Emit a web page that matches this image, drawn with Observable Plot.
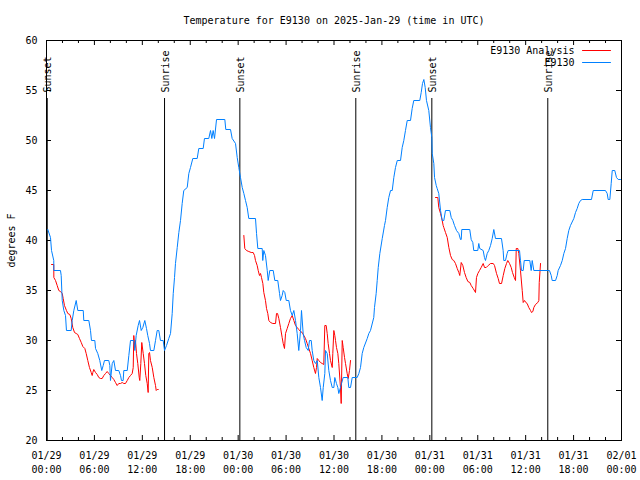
<!DOCTYPE html>
<html>
<head>
<meta charset="utf-8">
<script src="https://cdn.jsdelivr.net/npm/d3@7"></script>
<script src="https://cdn.jsdelivr.net/npm/@observablehq/plot@0.6"></script>
<style>
  html, body { margin: 0; padding: 0; background: #fff; }
  #chart svg { display: block; }
</style>
</head>
<body>
<div id="chart"></div>
<script>
// ---- Data (hours since 2025-01-29 00:00 UTC, temperatures in °F) ----
const titleText = "Temperature for E9130 on 2025-Jan-29 (time in UTC)";
const yLabelText = "degrees F";
const seriesNames = ["E9130 Analysis", "E9130"];
const seriesColors = ["#ff0000", "#0080ff"];

const e9130Hours = [0.16,0.50,0.63,0.91,0.92,1.75,1.84,1.97,2.17,2.38,2.50,3.09,3.22,3.42,3.72,3.92,4.60,4.67,5.30,5.51,5.63,6.05,6.14,6.42,6.67,6.92,7.10,7.26,7.80,7.93,8.01,8.23,8.43,8.64,9.05,9.27,9.39,9.60,9.68,10.11,10.31,10.52,10.93,11.06,11.23,11.48,11.65,11.86,12.06,12.31,12.52,12.68,12.90,13.02,13.44,13.65,13.86,14.06,14.27,14.61,14.78,15.03,15.31,15.53,15.74,15.87,16.03,16.15,16.37,16.57,16.78,16.99,17.19,17.62,17.82,18.03,18.32,18.87,19.07,19.62,19.78,20.32,20.54,20.70,20.87,21.04,21.29,22.33,22.45,23.04,23.25,23.67,23.88,24.08,24.29,24.51,24.71,24.92,25.13,25.33,26.17,26.30,26.46,27.01,27.08,27.21,27.42,27.64,27.76,27.96,28.39,28.59,28.96,29.18,29.30,29.51,29.64,29.84,30.02,30.34,30.55,30.77,30.97,31.18,31.39,31.59,31.81,31.93,32.14,32.31,32.52,32.77,32.93,33.15,33.27,33.47,33.68,33.90,34.10,34.31,34.52,34.65,34.85,34.94,35.15,35.35,35.56,35.78,35.98,36.10,36.31,36.48,36.60,36.81,36.94,37.15,37.73,37.85,38.07,38.28,38.90,39.11,39.32,39.53,39.73,40.16,40.36,40.57,40.98,41.07,41.28,41.41,41.54,41.74,42.04,42.32,42.45,42.66,42.86,43.08,43.29,43.49,43.70,43.92,44.33,44.54,44.74,44.95,45.17,45.58,45.79,45.99,46.74,46.92,47.08,47.25,47.42,47.58,47.87,48.08,48.25,48.30,48.50,48.59,48.80,48.92,49.12,49.34,49.55,49.75,49.96,50.50,50.68,50.88,51.09,51.34,51.63,51.84,51.93,52.00,53.00,53.18,53.38,53.50,54.00,54.13,54.25,54.68,54.84,54.97,55.18,55.38,55.60,55.81,56.01,56.22,56.97,57.18,57.26,57.47,57.68,57.81,59.23,59.35,59.48,59.69,59.82,60.52,60.69,60.82,61.02,62.98,63.20,63.32,63.74,63.95,64.07,64.36,64.58,64.78,64.99,65.20,65.40,65.61,66.03,66.24,66.45,66.65,66.87,67.08,68.24,68.46,69.99,70.21,70.33,70.54,70.71,70.84,71.16,71.37,71.59,71.87];
const e9130Temps = [41.1,40.3,39,38,37,37,36.5,34,33,32.5,31,31,32,33,34,33,33,32,32,31,30,30,29.2,28.7,28,27,27.5,28,28,27.5,26,27.7,28,27,27,26.5,26,26,27,27,28.5,30,30,29,30.5,31.5,32,31,31.3,32,31.2,30.5,29.7,29,29,30,31,31,30,30,29,29.5,30.2,30.7,32.7,34.7,36.3,37.7,39.3,40.8,42,43.7,45,45.3,46.7,47.3,48.2,48.2,49.2,49.2,50.2,50.2,51,50.2,51,50.2,52.1,52.1,51.1,51.1,50.2,49.7,48.3,47.3,46.3,45.3,44.7,44,43.3,42.2,42.2,40.7,39.2,39.2,38,39,38.5,37,36,37,37,36,36,34.7,34,34.5,35,34.8,34,34,33,32.5,33,32,30.7,29,31,33,30.7,30,29.3,29,30,30,29,28,27.7,28,26.3,25.3,24,25.3,26.7,29,28.7,27,26,25.3,25.3,26.3,25.7,25.3,24.7,25.3,25.7,26.3,26.3,25.3,25.3,26.3,26.3,26.7,27.3,28.7,29.3,30.2,30.7,31,32.3,33.3,34.7,36,37.3,38.7,40.2,41.5,42,43.3,44.3,45,45,46.3,47.3,48,48,49.3,50,51,52,52,53.2,54,54,54.8,55.7,56.1,55.3,54,53,51.3,50.3,48.7,47.7,46.3,45.5,45.2,44.7,43,42,42,43,43,42.3,42,41.5,41,40.7,40.1,40.1,41.1,41.1,40.1,39.8,39,39,39.7,39.2,39,38.3,38,38.7,39,39.5,40.2,41.1,40.2,40.2,39,38,38,38.7,39,39,38,37,37,38,38,37,38,37,37,36.5,36,36,36.5,37,37.5,38,38.7,39.2,40.2,41,41.5,42.2,42.8,43.2,43.7,44,44.1,44.1,45,45,44.7,44.1,44.1,45.7,47,47,46.3,46.1,46.1];

// Analysis series: three night-time segments
const analysis1Hours = [0.63,0.91,0.92,1.13,1.34,1.54,1.75,1.97,2.09,2.25,2.50,2.67,2.92,3.09,3.29,3.51,3.72,3.92,4.13,4.35,4.55,4.80,4.97,5.17,5.38,5.60,5.72,5.80,5.92,6.14,6.35,6.55,6.76,6.97,7.18,7.39,7.60,7.80,8.01,8.23,8.43,8.64,8.85,9.05,9.27,9.48,9.68,9.89,10.11,10.31,10.52,10.73,10.86,10.93,11.06,11.14,11.27,11.43,11.61,11.68,11.81,11.93,12.11,12.27,12.43,12.61,12.73,12.81,12.90,13.02,13.24,13.44,13.65,13.74,13.86,13.99];
const analysis1Temps = [37.6,37.6,36.3,36.0,35.5,35.0,34.9,34.7,34.2,33.5,33.0,32.7,32.6,32.2,31.3,30.8,30.7,30.6,30.2,29.8,29.4,29.2,28.7,28.0,27.3,26.8,26.5,26.8,27.1,26.8,26.6,26.3,26.2,26.2,26.5,26.7,26.9,26.7,26.5,26.3,26.1,25.8,25.5,25.7,25.7,25.8,25.7,25.7,26.0,26.3,26.5,26.7,27.3,30.5,29.3,30.0,28.7,27.7,26.3,26.0,27.7,29.8,28.7,27.7,26.5,25.7,24.8,28.7,28.8,28.0,27.3,26.3,25.5,25.0,25.1,25.1];
const analysis2Hours = [24.71,24.83,25.04,25.33,25.63,25.88,26.05,26.17,26.38,26.51,26.67,26.80,26.92,27.09,27.21,27.42,27.55,27.71,27.84,28.05,28.34,28.68,28.80,28.93,29.09,29.30,29.51,29.64,29.80,29.93,30.14,30.34,30.55,30.77,30.97,31.18,31.39,31.59,31.81,32.02,32.22,32.43,32.64,32.85,33.06,33.27,33.47,33.68,33.81,33.90,34.10,34.31,34.52,34.72,34.85,35.02,35.15,35.27,35.44,35.56,35.78,35.85,35.98,36.10,36.19,36.31,36.48,36.60,36.81,36.90,37.03,37.15,37.32,37.44,37.65,37.78,37.94,38.07];
const analysis2Temps = [40.5,39.2,39.0,38.9,38.8,38.8,38.5,38.0,37.5,37.0,36.5,36.7,36.3,35.7,34.8,34.0,33.2,32.7,32.0,31.8,31.7,31.7,32.7,32.7,32.2,31.3,30.3,29.7,29.2,30.7,31.2,31.7,32.2,32.5,32.0,31.5,31.3,31.1,30.9,30.8,30.5,30.2,29.7,29.2,28.7,28.0,27.3,26.7,27.3,28.2,28.0,27.8,27.7,27.6,31.5,31.5,30.7,29.7,28.7,28.0,27.3,28.7,31.0,30.5,30.0,29.3,28.7,27.7,25.3,23.7,30.0,29.3,28.3,27.7,26.7,26.2,27.0,28.0];
const analysis3Hours = [48.71,49.00,49.12,49.34,49.55,49.67,49.75,49.96,50.18,50.38,50.59,50.80,51.00,51.21,51.43,51.63,51.75,51.93,52.13,52.34,52.55,52.76,53.01,53.18,53.43,53.72,53.84,54.01,54.22,54.43,54.68,54.85,55.06,55.31,55.60,55.94,56.10,56.35,56.56,56.72,56.98,57.19,57.39,57.60,57.76,57.98,58.19,58.35,58.57,58.73,58.82,59.02,59.14,59.35,59.57,59.69,59.86,60.02,60.19,60.39,60.61,60.73,60.90,61.02,61.23,61.52,61.65,61.70,61.86];
const analysis3Temps = [44.3,44.3,43.3,42.7,42.0,41.5,41.3,40.8,40.3,39.3,38.5,38.1,38.0,37.7,37.2,36.8,36.5,37.8,37.5,36.8,36.3,35.9,35.8,35.5,35.2,34.8,36.3,36.7,37.0,37.3,37.7,37.3,37.3,37.5,37.7,37.7,37.5,36.7,36.2,35.7,35.7,36.5,37.2,37.7,38.0,37.7,37.3,36.8,36.3,36.0,39.2,39.2,38.7,37.0,35.0,33.8,34.0,33.8,33.7,33.3,33.0,32.8,32.9,33.3,33.6,33.8,34.0,35.8,37.7];

// Sun events
const sunHours = [0.09, 14.78, 24.21, 38.73, 48.25, 62.77];
const sunLabels = ["Sunset", "Sunrise", "Sunset", "Sunrise", "Sunset", "Sunrise"];

// Axis ticks
const yTicks = [20, 25, 30, 35, 40, 45, 50, 55, 60];
const xStartISO = "2025-01-29T00:00:00Z";
const xEndISO = "2025-02-01T00:00:00Z";

// ---- Build tables ----
const start = new Date(xStartISO);
const end = new Date(xEndISO);
const toDate = h => new Date(start.getTime() + h * 3600e3);

const e9130 = e9130Hours.map((h, i) => ({time: toDate(h), temp: e9130Temps[i]}));
const analysis = [
  [analysis1Hours, analysis1Temps],
  [analysis2Hours, analysis2Temps],
  [analysis3Hours, analysis3Temps]
].flatMap(([hs, ts], k) => hs.map((h, i) => ({time: toDate(h), temp: ts[i], seg: k})));
const sunEvents = sunHours.map((h, i) => ({time: toDate(h), label: sunLabels[i]}));

const majorTicks = d3.utcHour.every(6).range(start, new Date(end.getTime() + 1));
const minorTicks = d3.utcHour.every(2).range(start, end).filter(d => d.getUTCHours() % 6 !== 0);

const lineShape = {draw(context, l) { context.moveTo(0, 0); context.lineTo(0, -l); }};
const fontFamily = "'DejaVu Sans Mono', monospace";

const chart = Plot.plot({
  width: 640,
  height: 480,
  marginLeft: 46,
  marginRight: 19,
  marginTop: 40,
  marginBottom: 40,
  style: {fontFamily, fontSize: "10px", background: "#fff", color: "#000", overflow: "visible"},
  x: {type: "utc", domain: [start, end]},
  y: {domain: [20, 60]},
  marks: [
    // tick marks (inward, mirrored on all four sides)
    Plot.ruleX(majorTicks, {insetTop: 395, stroke: "#000"}),
    Plot.ruleX(majorTicks, {insetBottom: 395, stroke: "#000"}),
    Plot.ruleX(minorTicks, {insetTop: 397, stroke: "#000"}),
    Plot.ruleX(minorTicks, {insetBottom: 397, stroke: "#000"}),
    Plot.ruleY(yTicks, {insetRight: 570, stroke: "#000"}),
    Plot.ruleY(yTicks, {insetLeft: 570, stroke: "#000"}),
    // tick labels
    Plot.axisX(majorTicks, {anchor: "bottom", tickSize: 0, tickPadding: 9, lineHeight: 1.4,
      tickFormat: d3.utcFormat("%m/%d\n%H:%M"), label: null, fill: "#000"}),
    Plot.axisY(yTicks, {anchor: "left", tickSize: 0, tickPadding: 9, label: null, fill: "#000"}),
    // sunrise / sunset markers
    Plot.ruleX(sunEvents, {x: "time", insetTop: 58, stroke: "#000"}),
    Plot.text(sunEvents, {x: "time", text: "label", frameAnchor: "top", dy: 52, dx: 1,
      rotate: -90, textAnchor: "start", lineAnchor: "middle", fill: "#000"}),
    // data
    Plot.line(analysis, {x: "time", y: "temp", z: "seg", stroke: seriesColors[0], strokeWidth: 1}),
    Plot.line(e9130, {x: "time", y: "temp", stroke: seriesColors[1], strokeWidth: 1}),
    // frame
    Plot.frame({stroke: "#000"}),
    // legend
    Plot.text([seriesNames[0]], {frameAnchor: "top-right", dx: -47, dy: 10, textAnchor: "end",
      lineAnchor: "middle", fill: "#000"}),
    Plot.text([seriesNames[1]], {frameAnchor: "top-right", dx: -47, dy: 22, textAnchor: "end",
      lineAnchor: "middle", fill: "#000"}),
    Plot.vector([seriesNames[0]], {frameAnchor: "top-right", dx: -39, dy: 10, length: 28, rotate: 90,
      anchor: "start", shape: lineShape, stroke: seriesColors[0], strokeWidth: 1}),
    Plot.vector([seriesNames[1]], {frameAnchor: "top-right", dx: -39, dy: 22, length: 28, rotate: 90,
      anchor: "start", shape: lineShape, stroke: seriesColors[1], strokeWidth: 1}),
    // title and y label
    Plot.text([titleText], {frameAnchor: "top", dy: -20, lineAnchor: "middle", fill: "#000"}),
    Plot.text([yLabelText], {frameAnchor: "left", dx: -35, rotate: -90, textAnchor: "middle",
      lineAnchor: "middle", fill: "#000"})
  ]
});

document.getElementById("chart").appendChild(chart);
</script>
</body>
</html>
